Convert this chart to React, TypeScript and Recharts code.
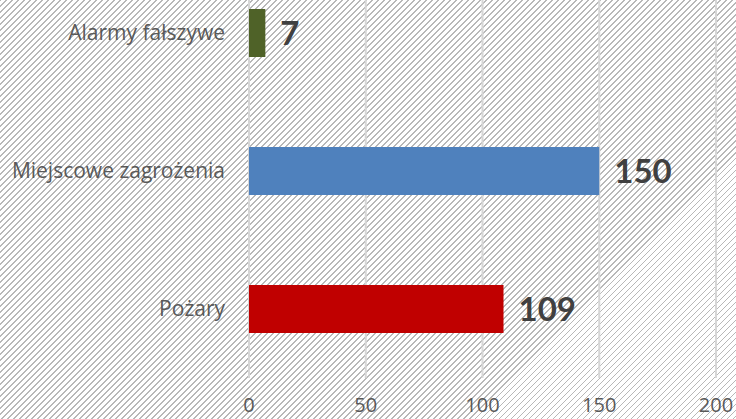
import { BarChart, Bar, XAxis, YAxis, CartesianGrid, Cell, LabelList } from "recharts";

const categories = ["Alarmy fałszywe", "Miejscowe zagrożenia", "Pożary"];
const values = [7, 150, 109];
const xTicks = [0, 50, 100, 150, 200];

const COLORS = ["#4f6228", "#4f81bd", "#c00000"];

const FONT = "'Open Sans', sans-serif";
const BOLD_FONT = "Lato, 'Open Sans', sans-serif";

export default function App() {
  const data = categories.map((name, i) => ({ name, value: values[i] }));

  return (
    <div
      style={{
        position: "absolute",
        left: 0,
        top: 0,
        width: 736,
        height: 419,
        overflow: "hidden",
        background:
          "repeating-linear-gradient(135deg, #b8b8b8 0px, #b8b8b8 1.1px, #ffffff 1.1px, #ffffff 4.24px)",
      }}
    >
      <BarChart
        width={736}
        height={419}
        data={data}
        layout="vertical"
        margin={{ top: -36, right: 20, bottom: 0, left: 0 }}
        barCategoryGap={45}
        style={{ fontFamily: FONT }}
      >
        <CartesianGrid
          horizontal={false}
          stroke="#d6d6d6"
          strokeWidth={2}
          strokeDasharray="none"
          strokeOpacity={1}
        />
        <XAxis
          type="number"
          domain={[0, 200]}
          ticks={xTicks}
          axisLine={false}
          tickLine={false}
          tickSize={0}
          tickMargin={20}
          height={41}
          interval={0}
          tick={{ fontSize: 20, fill: "#595959", fontFamily: FONT }}
        />
        <YAxis
          type="category"
          dataKey="name"
          width={249}
          axisLine={false}
          tickLine={false}
          tickSize={0}
          tickMargin={24}
          tick={{ fontSize: 21, fill: "#595959", fontFamily: FONT }}
        />
        <Bar dataKey="value" isAnimationActive={false}>
          {data.map((entry, i) => (
            <Cell key={entry.name} fill={COLORS[i]} />
          ))}
          <LabelList
            dataKey="value"
            position="right"
            offset={15}
            style={{ fontSize: 33, fontWeight: 700, fill: "#404040", fontFamily: BOLD_FONT }}
          />
        </Bar>
      </BarChart>
    </div>
  );
}
